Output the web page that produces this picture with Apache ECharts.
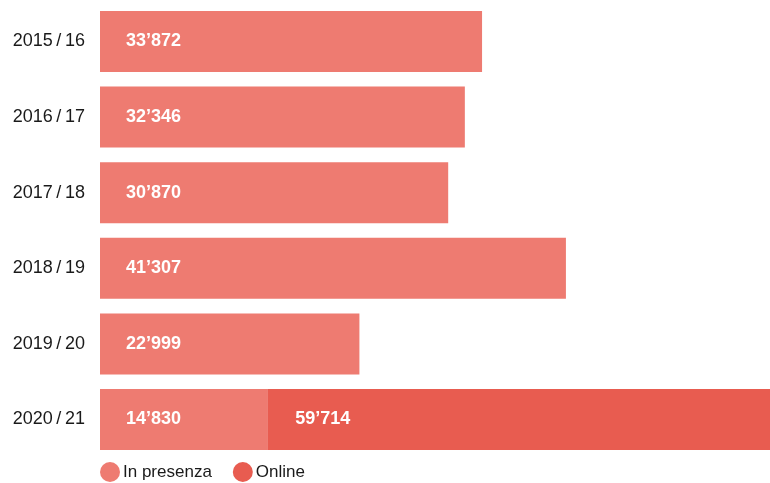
<!DOCTYPE html>
<html>
<head>
<meta charset="utf-8">
<script src="https://cdn.jsdelivr.net/npm/echarts@6/dist/echarts.min.js"></script>
<style>
html,body{margin:0;padding:0;background:#fff;}
#chart{width:770px;height:483px;}
</style>
</head>
<body>
<div id="chart"></div>
<script>
const categories = ['2015\u2009/\u200916', '2016\u2009/\u200917', '2017\u2009/\u200918', '2018\u2009/\u200919', '2019\u2009/\u200920', '2020\u2009/\u200921'];
const inPresenza = [33872, 32346, 30870, 41307, 22999, 14830];
const online = [null, null, null, null, null, 59714];
const seriesNames = ['In presenza', 'Online'];

function fmt(v) {
  return String(v).replace(/\B(?=(\d{3})+(?!\d))/g, '\u2019');
}

const labelStyle = {
  show: true,
  position: 'insideLeft',
  distance: 26,
  color: '#ffffff',
  fontWeight: 'bold',
  fontSize: 18,
  fontFamily: 'Liberation Sans, Arial, sans-serif',
  formatter: p => fmt(p.value)
};

const chart = echarts.init(document.getElementById('chart'), null, {renderer: 'canvas'});
chart.setOption({
  animation: false,
  textStyle: {fontFamily: 'Liberation Sans, Arial, sans-serif'},
  grid: {left: 100, right: 0, top: 3.7, bottom: 25.7, containLabel: false},
  xAxis: {
    type: 'value', min: 0, max: 59400,
    show: false
  },
  yAxis: {
    type: 'category', data: categories, inverse: true,
    axisLine: {show: false}, axisTick: {show: false}, splitLine: {show: false},
    axisLabel: {color: '#1a1a1a', fontSize: 18, margin: 15}
  },
  legend: {
    left: 100, top: 462, padding: 0, itemWidth: 20, itemHeight: 20, itemGap: 21,
    icon: 'circle',
    textStyle: {fontSize: 17, color: '#1a1a1a', padding: [0, 0, 0, -2]},
    data: seriesNames
  },
  series: [
    {
      name: seriesNames[0], type: 'bar', stack: 'tot', data: inPresenza,
      barWidth: 61, itemStyle: {color: '#EE7B71'}, label: labelStyle
    },
    {
      name: seriesNames[1], type: 'bar', stack: 'tot', data: online,
      barWidth: 61, itemStyle: {color: '#E85C50'}, label: Object.assign({}, labelStyle, {distance: 28})
    }
  ]
});
</script>
</body>
</html>
